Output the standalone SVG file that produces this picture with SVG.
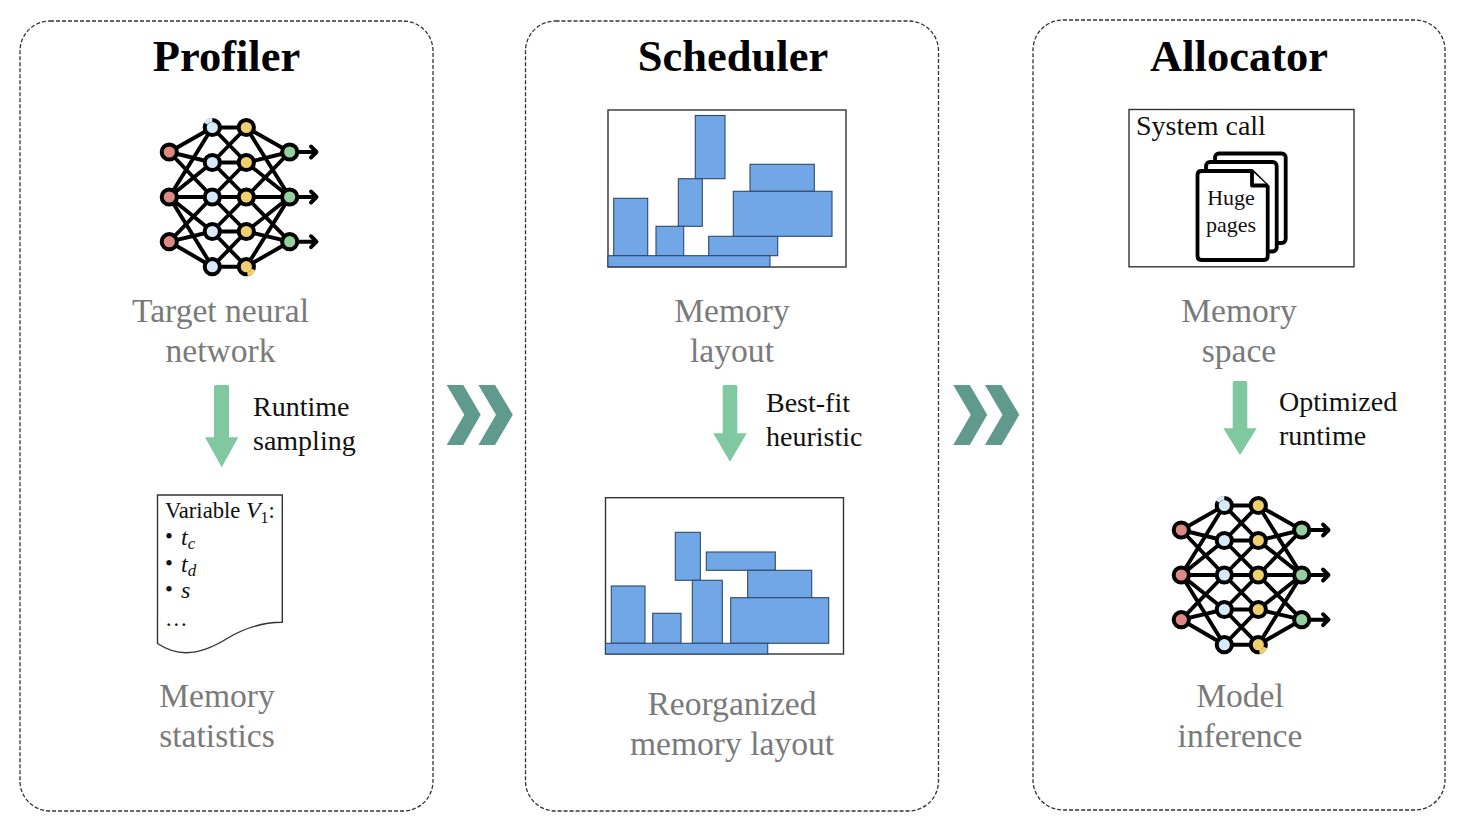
<svg xmlns="http://www.w3.org/2000/svg" xmlns:xlink="http://www.w3.org/1999/xlink" width="1468" height="830" viewBox="0 0 1468 830">
<style>
text{font-family:"Liberation Serif","Times New Roman",serif}
.panel{fill:#fff;stroke:#333;stroke-width:1.3;stroke-dasharray:4 2}
.title{font-size:44.5px;font-weight:700;fill:#000;text-anchor:middle}
.gray{font-size:33.6px;fill:#7a7a7a;text-anchor:middle}
.note{font-size:28px;fill:#111}
.frame{fill:#fff;stroke:#333;stroke-width:1.4}
.blk{fill:#71a7e7;stroke:#2f4a68;stroke-width:1.1}
.edge{stroke:#000;stroke-width:3.9;fill:none;stroke-linecap:round;stroke-linejoin:round}
.n{stroke:#000;stroke-width:4}
.r{fill:#de8a84}.b{fill:#d6e9f9}.y{fill:#f0d06c}.g{fill:#96cfa0}
.flow{fill:#7fc8a0}
.chev{fill:#5f9a8d}
.pg{fill:#fff;stroke:#000;stroke-width:3.8;stroke-linejoin:round}
.doc{font-size:22.6px;fill:#111}
.mi{font-size:24px;font-style:italic;fill:#111}
.sub{font-size:17px;font-style:italic;fill:#111}
</style>
<defs>
<g id="net">
<path class="edge" d="M169.3 152L212.3 127.5M169.3 152L212.3 162.5M169.3 152L212.3 197M169.3 197L212.3 127.5M169.3 197L212.3 162.5M169.3 197L212.3 197M169.3 197L212.3 231.5M169.3 197L212.3 266.7M169.3 241.7L212.3 197M169.3 241.7L212.3 231.5M169.3 241.7L212.3 266.7"/>
<path class="edge" d="M212.3 127.5H246.3M212.3 162.5H246.3M212.3 197H246.3M212.3 231.5H246.3M212.3 266.7H246.3M212.3 127.5L246.3 162.5M212.3 162.5L246.3 127.5M212.3 162.5L246.3 197M212.3 197L246.3 162.5M212.3 197L246.3 231.5M212.3 231.5L246.3 197M212.3 231.5L246.3 266.7M212.3 266.7L246.3 231.5"/>
<path class="edge" d="M246.3 127.5L289.7 152M246.3 162.5L289.7 152M246.3 197L289.7 152M246.3 127.5L289.7 197M246.3 162.5L289.7 197M246.3 197L289.7 197M246.3 231.5L289.7 197M246.3 266.7L289.7 197M246.3 197L289.7 241.7M246.3 231.5L289.7 241.7M246.3 266.7L289.7 241.7"/>
<path class="edge" d="M289.7 152H316M311 146.5L316.5 152L311 157.5M289.7 197H316M311 191.5L316.5 197L311 202.5M289.7 241.7H316M311 236.2L316.5 241.7L311 247.2"/>
<circle class="n r" cx="169.3" cy="152" r="7.6"/><circle class="n r" cx="169.3" cy="197" r="7.6"/><circle class="n r" cx="169.3" cy="241.7" r="7.6"/>
<circle class="n b" cx="212.3" cy="127.5" r="7.6"/><circle class="n b" cx="212.3" cy="162.5" r="7.6"/><circle class="n b" cx="212.3" cy="197" r="7.6"/><circle class="n b" cx="212.3" cy="231.5" r="7.6"/><circle class="n b" cx="212.3" cy="266.7" r="7.6"/>
<circle class="n y" cx="246.3" cy="127.5" r="7.6"/><circle class="n y" cx="246.3" cy="162.5" r="7.6"/><circle class="n y" cx="246.3" cy="197" r="7.6"/><circle class="n y" cx="246.3" cy="231.5" r="7.6"/><circle class="n y" cx="246.3" cy="266.7" r="7.6"/>
<circle class="n g" cx="289.7" cy="152" r="7.6"/><circle class="n g" cx="289.7" cy="197" r="7.6"/><circle class="n g" cx="289.7" cy="241.7" r="7.6"/>
<path d="M205.5 123.5A7.6 7.6 0 0 1 212.3 119.9" fill="none" stroke="#d6e9f9" stroke-width="4"/>
<path d="M253.5 269.5A7.6 7.6 0 0 1 247.5 274.2" fill="none" stroke="#f0d06c" stroke-width="4"/>
</g>
<path id="chevs" class="chev" d="M446.7 385H463.3L480.7 414.7L463.3 445H446.7L464.3 414.7ZM478.4 385H495L512.8 414.7L495 445H478.4L496 414.7Z"/>
</defs>

<g id="profiler">
<rect class="panel" x="20" y="21" width="413" height="790" rx="30"/>
<text class="title" x="226.5" y="71">Profiler</text>
</g>
<g id="scheduler">
<rect class="panel" x="525.5" y="21" width="413" height="790" rx="30"/>
<text class="title" x="733" y="71">Scheduler</text>
</g>
<g id="allocator">
<rect class="panel" x="1033" y="20" width="412" height="790" rx="30"/>
<text class="title" x="1239" y="71">Allocator</text>
</g>

<g id="target-network">
<use href="#net" xlink:href="#net"/>
<text class="gray" x="220.5" y="321.5">Target neural</text>
<text class="gray" x="220.5" y="361.5">network</text>
</g>

<g id="memory-statistics">
<path fill="#fff" stroke="#333" stroke-width="1.4" d="M157.5 495H282.3V622.3C262 622.5 246 627 228 638C212 648 200 652.7 186 652.7C174 652.7 165 648.5 157.5 643.5Z"/>
<text class="doc" x="165" y="518">Variable <tspan font-style="italic" font-size="24">V</tspan><tspan font-size="16" dy="5">1</tspan><tspan dy="-5">:</tspan></text>
<text class="doc" x="165" y="544">•</text><text class="mi" x="181" y="545">t<tspan class="sub" dy="4">c</tspan></text>
<text class="doc" x="165" y="571">•</text><text class="mi" x="181" y="572">t<tspan class="sub" dy="4">d</tspan></text>
<text class="doc" x="165" y="597">•</text><text class="mi" x="181" y="598">s</text>
<text class="doc" x="165" y="626">…</text>
<text class="gray" x="217" y="706.5">Memory</text>
<text class="gray" x="217" y="746.5">statistics</text>
</g>

<g id="memory-layout">
<rect class="frame" x="608" y="110" width="238" height="157"/>
<rect class="blk" x="695.3" y="115.5" width="29.7" height="63.2"/>
<rect class="blk" x="678.3" y="178.7" width="24" height="47.6"/>
<rect class="blk" x="656" y="226.3" width="27.7" height="29.4"/>
<rect class="blk" x="613.7" y="198.3" width="34" height="57.4"/>
<rect class="blk" x="708.7" y="236.3" width="69" height="19.4"/>
<rect class="blk" x="750" y="164.3" width="64.3" height="27"/>
<rect class="blk" x="733.3" y="191.3" width="98.7" height="45"/>
<rect class="blk" x="608" y="255.7" width="162" height="11"/>
<text class="gray" x="732" y="321.5">Memory</text>
<text class="gray" x="732" y="361.5">layout</text>
</g>

<g id="reorganized-layout">
<rect class="frame" x="605.5" y="497.7" width="238" height="156.3"/>
<rect class="blk" x="675.3" y="532.3" width="25" height="48"/>
<rect class="blk" x="706.3" y="552" width="69" height="18.3"/>
<rect class="blk" x="747.7" y="570.3" width="64" height="27.4"/>
<rect class="blk" x="730.7" y="597.7" width="98" height="45.6"/>
<rect class="blk" x="692.3" y="580.3" width="30" height="63"/>
<rect class="blk" x="652.7" y="613.3" width="28.3" height="30"/>
<rect class="blk" x="611.3" y="586" width="33.7" height="57.3"/>
<rect class="blk" x="605.5" y="643.3" width="162.2" height="10.7"/>
<text class="gray" x="732" y="714.5">Reorganized</text>
<text class="gray" x="732" y="754.5">memory layout</text>
</g>

<g id="memory-space">
<rect class="frame" x="1129" y="109.5" width="225" height="157.3"/>
<text class="note" x="1136" y="135">System call</text>
<rect class="pg" x="1215" y="153.5" width="70.7" height="89.5" rx="4"/>
<rect class="pg" x="1206" y="162" width="70.7" height="89.5" rx="4"/>
<path class="pg" d="M1201.5 171H1252L1267.7 186.5V256C1267.7 258.7 1266 260 1264 260H1201.5C1199 260 1197.5 258.7 1197.5 256V175C1197.5 172.5 1199 171 1201.5 171Z"/>
<path class="pg" d="M1252 171V185.5H1267.7"/>
<text x="1231" y="205" font-size="22" fill="#111" text-anchor="middle">Huge</text>
<text x="1231" y="232" font-size="22" fill="#111" text-anchor="middle">pages</text>
<text class="gray" x="1239" y="321.5">Memory</text>
<text class="gray" x="1239" y="361.5">space</text>
</g>

<g id="model-inference">
<use href="#net" xlink:href="#net" x="1012" y="378"/>
<text class="gray" x="1240" y="706.5">Model</text>
<text class="gray" x="1240" y="746.5">inference</text>
</g>

<g id="connectors">
<path class="flow" d="M214 386.5Q214 385 215.5 385H227.5Q229 385 229 386.5V437.3H238.3L221.7 467.3L205 437.3H214Z"/>
<path class="flow" d="M722.7 386.5Q722.7 385 724.2 385H735.8Q737.3 385 737.3 386.5V433.3H746.7L730 461.7L713.3 433.3H722.7Z"/>
<path class="flow" d="M1232.7 382.5Q1232.7 381 1234.2 381H1245.8Q1247.3 381 1247.3 382.5V428.3H1256.7L1240 455L1223.3 428.3H1232.7Z"/>
<use href="#chevs" xlink:href="#chevs"/>
<use href="#chevs" xlink:href="#chevs" x="506.5"/>
<text class="note" x="253" y="416">Runtime</text>
<text class="note" x="253" y="450">sampling</text>
<text class="note" x="766" y="412">Best-fit</text>
<text class="note" x="766" y="446">heuristic</text>
<text class="note" x="1279" y="411">Optimized</text>
<text class="note" x="1279" y="445">runtime</text>
</g>
</svg>
